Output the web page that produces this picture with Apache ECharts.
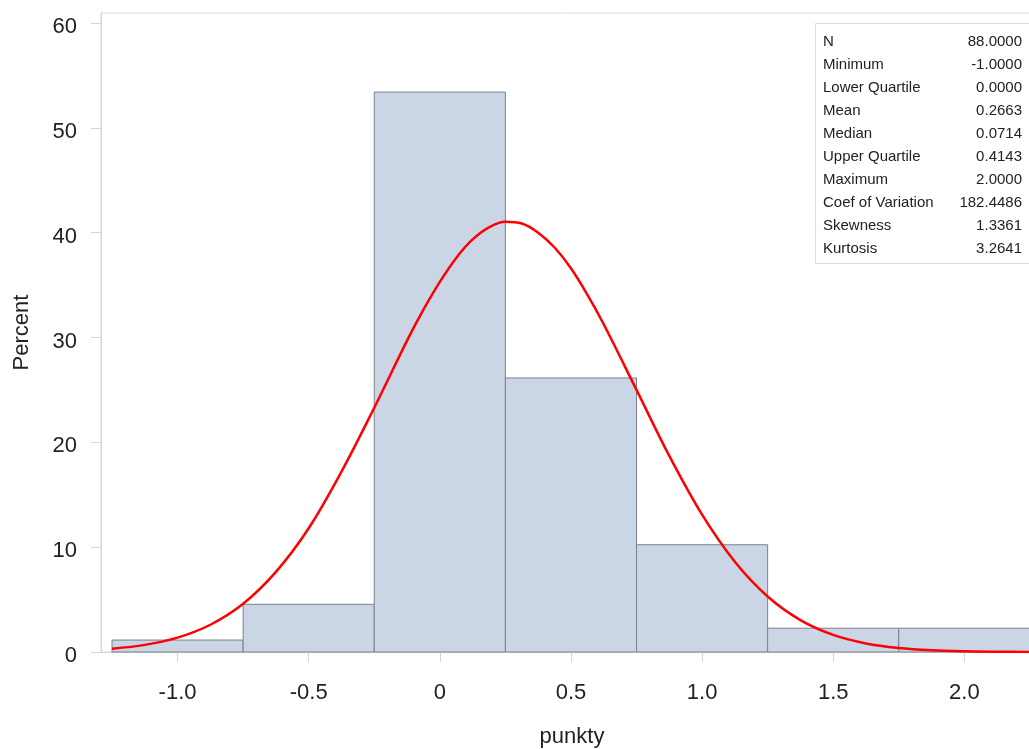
<!DOCTYPE html>
<html lang="pl">
<head>
  <meta charset="UTF-8">
  <title>punkty histogram</title>
  <style>
    html, body { margin: 0; padding: 0; background: #fff; }
    #chart { width: 1029px; height: 749px; }
  </style>
</head>
<body>
  <div id="chart"></div>
  <script src="https://cdn.jsdelivr.net/npm/echarts@6/dist/echarts.min.js"></script>
  <script>
    // histogram bins (bin start, bin end) and percent of 88 observations
    var binStart = [-1.25, -0.75, -0.25, 0.25, 0.75, 1.25, 1.75]
    var binEnd = [-0.75, -0.25, 0.25, 0.75, 1.25, 1.75, 2.25]
    var binPercent = [1.14, 4.55, 53.41, 26.14, 10.23, 2.27, 2.27]

    // fitted normal curve
    var curveX = [-1.25, -1.125, -1.0, -0.875, -0.75, -0.625, -0.5, -0.375, -0.25, -0.125, -0.0625, 0, 0.0625,
      0.125, 0.1875, 0.25, 0.3125, 0.375, 0.4375, 0.5, 0.5625, 0.625, 0.75, 0.875, 1.0, 1.125, 1.25, 1.375,
      1.5, 1.625, 1.75, 1.875, 2.0, 2.125, 2.25]
    var curveY = [0.32, 0.68, 1.37, 2.6, 4.6, 7.64, 11.8, 17.2, 23.3, 29.7, 32.65, 35.3, 37.59,
      39.35, 40.51, 41.03, 40.87, 40.0, 38.58, 36.6, 34.09, 31.26, 25.0, 18.7, 13.1, 8.61, 5.29, 3.04,
      1.63, 0.82, 0.39, 0.17, 0.07, 0.03, 0.01]

    var xTicks = [-1.0, -0.5, 0, 0.5, 1.0, 1.5, 2.0]
    var yTicks = [0, 10, 20, 30, 40, 50, 60]

    var statLabels = ['N', 'Minimum', 'Lower Quartile', 'Mean', 'Median', 'Upper Quartile', 'Maximum',
      'Coef of Variation', 'Skewness', 'Kurtosis']
    var statValues = ['88.0000', '-1.0000', '0.0000', '0.2663', '0.0714', '0.4143', '2.0000',
      '182.4486', '1.3361', '3.2641']

    var font = '"Liberation Sans", Arial, sans-serif'

    var bars = binStart.map(function (s, i) { return [s, binEnd[i], binPercent[i]] })
    var curve = curveX.map(function (x, i) { return [x, curveY[i]] })

    var statsBox = [{
      type: 'rect',
      left: 815, top: 23,
      shape: { width: 230, height: 240 },
      style: { fill: '#fff', stroke: '#dcdcdc', lineWidth: 1 },
      z: 100
    }]
    statLabels.forEach(function (lab, i) {
      statsBox.push({
        type: 'text', left: 823, top: 34 + i * 23, z: 101,
        style: { text: lab, fill: '#222', font: '15px ' + font }
      })
      statsBox.push({
        type: 'text', right: 7, top: 34 + i * 23, z: 101,
        style: { text: statValues[i], fill: '#222', font: '15px ' + font }
      })
    })

    var option = {
      animation: false,
      backgroundColor: '#fff',
      textStyle: { fontFamily: font },
      grid: {
        left: 101, top: 13, right: -14, bottom: 97,
        outerBoundsMode: 'none',
        containLabel: false,
        show: true, borderColor: '#dadada', borderWidth: 1
      },
      xAxis: {
        type: 'value',
        min: -1.292,
        max: 2.3,
        interval: 0.5,
        name: 'punkty',
        nameLocation: 'middle',
        nameGap: 74,
        nameTextStyle: { fontSize: 22, color: '#222', fontFamily: font },
        axisLine: { show: true, onZero: false, lineStyle: { color: '#d4d4d4' } },
        axisTick: {
          show: true, length: 10, lineStyle: { color: '#d4d4d4' },
          customValues: xTicks
        },
        axisLabel: {
          margin: 30, fontSize: 22, color: '#222', fontFamily: font,
          customValues: xTicks,
          formatter: function (v) { return v === 0 ? '0' : v.toFixed(1) }
        },
        splitLine: { show: false }
      },
      yAxis: {
        type: 'value',
        min: 0,
        max: 60.95,
        interval: 10,
        name: 'Percent',
        nameLocation: 'middle',
        nameGap: 68,
        nameRotate: 90,
        nameTextStyle: { fontSize: 22, color: '#222', fontFamily: font },
        axisLine: { show: true, onZero: false, lineStyle: { color: '#d4d4d4' } },
        axisTick: {
          show: true, length: 10, lineStyle: { color: '#d4d4d4' },
          customValues: yTicks
        },
        axisLabel: {
          margin: 24, fontSize: 22, color: '#222', fontFamily: font,
          verticalAlign: 'top', lineHeight: 8,
          customValues: yTicks
        },
        splitLine: { show: false }
      },
      graphic: statsBox,
      series: [
        {
          type: 'custom',
          name: 'histogram',
          renderItem: function (params, api) {
            var p0 = api.coord([api.value(0), api.value(2)])
            var p1 = api.coord([api.value(1), 0])
            return {
              type: 'rect',
              shape: { x: p0[0], y: p0[1], width: p1[0] - p0[0], height: p1[1] - p0[1] },
              style: { fill: '#cad5e5', stroke: '#7b828c', lineWidth: 1 }
            }
          },
          encode: { x: [0, 1], y: 2 },
          data: bars,
          z: 2
        },
        {
          type: 'line',
          name: 'normal',
          data: curve,
          smooth: 0.35,
          showSymbol: false,
          symbol: 'none',
          lineStyle: { color: '#ff0000', width: 2.5 },
          z: 3
        }
      ]
    }

    var chart = echarts.init(document.getElementById('chart'))
    chart.setOption(option)
  </script>
</body>
</html>
